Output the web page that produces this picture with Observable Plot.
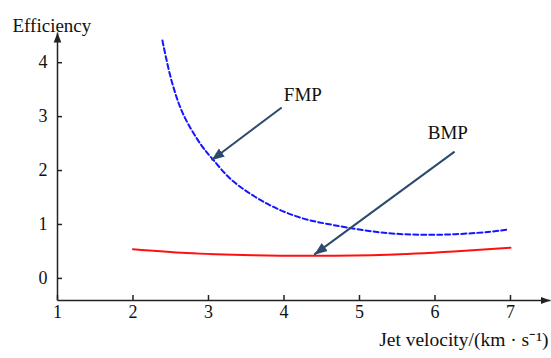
<!DOCTYPE html>
<html><head><meta charset="utf-8">
<script src="https://cdn.jsdelivr.net/npm/d3@7"></script>
<script src="https://cdn.jsdelivr.net/npm/@observablehq/plot@0.6"></script>
<style>body{margin:0;background:#fff;} svg, svg text{font-family:"Liberation Serif","Times New Roman",serif !important;}</style>
</head><body><div id="chart"></div>
<script>
// FMP (blue dashed)
const fmpX = [2.39, 2.51, 2.66, 2.89, 3.05, 3.32, 3.77, 4.21, 4.65, 5.37, 6.03, 6.70, 6.98];
const fmpY = [4.41, 3.67, 3.06, 2.50, 2.22, 1.81, 1.39, 1.13, 0.99, 0.84, 0.81, 0.86, 0.91];
// BMP (red solid)
const bmpX = [2.0, 2.71, 3.59, 4.39, 5.37, 6.25, 7.0];
const bmpY = [0.54, 0.47, 0.43, 0.42, 0.44, 0.50, 0.57];
const xTicks = [1, 2, 3, 4, 5, 6, 7];
const yTicks = [0, 1, 2, 3, 4];
const xDomain = [1, 7.53];
const yDomain = [-0.41, 4.56];
const labels = ["FMP", "BMP"];
const labelX = [4.25, 6.17];
const labelY = [3.40, 2.70];
const arrowX1 = [3.97, 6.26], arrowY1 = [3.17, 2.35];
const arrowX2 = [3.04, 4.40], arrowY2 = [2.19, 0.44];

const fmp = fmpX.map((x, i) => ({x, y: fmpY[i]}));
const bmp = bmpX.map((x, i) => ({x, y: bmpY[i]}));
const notes = labels.map((t, i) => ({t, x: labelX[i], y: labelY[i], x1: arrowX1[i], y1: arrowY1[i], x2: arrowX2[i], y2: arrowY2[i]}));

const FONT = "'Liberation Serif', 'Times New Roman', serif";
const NS = "http://www.w3.org/2000/svg";
const tri = (size) => (color) => {
  const m = document.createElementNS(NS, "marker");
  m.setAttribute("viewBox", `${-size} ${-size/2} ${size} ${size}`);
  m.setAttribute("markerWidth", size);
  m.setAttribute("markerHeight", size);
  m.setAttribute("orient", "auto");
  m.setAttribute("markerUnits", "userSpaceOnUse");
  m.setAttribute("refX", 0); m.setAttribute("refY", 0);
  m.setAttribute("fill", color);
  m.setAttribute("stroke", "none");
  const p = document.createElementNS(NS, "path");
  p.setAttribute("d", `M${-size},${-size*0.38}L0,0L${-size},${size*0.38}Z`);
  m.appendChild(p);
  return m;
};

const axisColor = "#222";
const chart = Plot.plot({
  width: 551, height: 358,
  marginLeft: 57, marginRight: 1, marginTop: 32, marginBottom: 58,
  x: {domain: xDomain},
  y: {domain: yDomain},
  style: {fontFamily: FONT, background: "#fff"},
  marks: [
    Plot.axisX({ticks: xTicks, tickFormat: "d", tickSize: -5, tickPadding: 10, fontSize: 18, fontFamily: FONT, stroke: axisColor, color: "#111", label: null, strokeWidth: 1.5}),
    Plot.axisY({ticks: yTicks, tickFormat: "d", tickSize: -5, tickPadding: 15, fontSize: 18, fontFamily: FONT, stroke: axisColor, color: "#111", label: null, strokeWidth: 1.5}),
    Plot.link([0], {x1: xDomain[0], y1: yDomain[0], x2: xDomain[0], y2: yDomain[1], stroke: axisColor, strokeWidth: 1.5, markerEnd: tri(10)}),
    Plot.link([0], {x1: xDomain[0], y1: yDomain[0], x2: xDomain[1], y2: yDomain[0], stroke: axisColor, strokeWidth: 1.5, markerEnd: tri(10)}),
    Plot.line(fmp, {x: "x", y: "y", stroke: "#1515ff", strokeWidth: 2, strokeDasharray: "5,3", curve: "catmull-rom"}),
    Plot.line(bmp, {x: "x", y: "y", stroke: "#ff1010", strokeWidth: 2, curve: "catmull-rom"}),
    Plot.link(notes, {x1: "x1", y1: "y1", x2: "x2", y2: "y2", stroke: "#2c4a6e", strokeWidth: 2, markerEnd: tri(13)}),
    Plot.text(notes, {x: "x", y: "y", text: "t", fontSize: 19, fontFamily: FONT, fill: "#111"}),
    Plot.text(["Efficiency"], {frameAnchor: "top-left", dx: -45, dy: -14, textAnchor: "start", fontSize: 19, fontFamily: FONT, fill: "#111"}),
    Plot.text(["Jet velocity/(km \u00b7 s\u207b\u00b9)"], {frameAnchor: "bottom-right", dx: -2, dy: 45, textAnchor: "end", fontSize: 19.5, fontFamily: FONT, fill: "#111"})
  ]
});
document.getElementById("chart").appendChild(chart);
</script></body></html>
